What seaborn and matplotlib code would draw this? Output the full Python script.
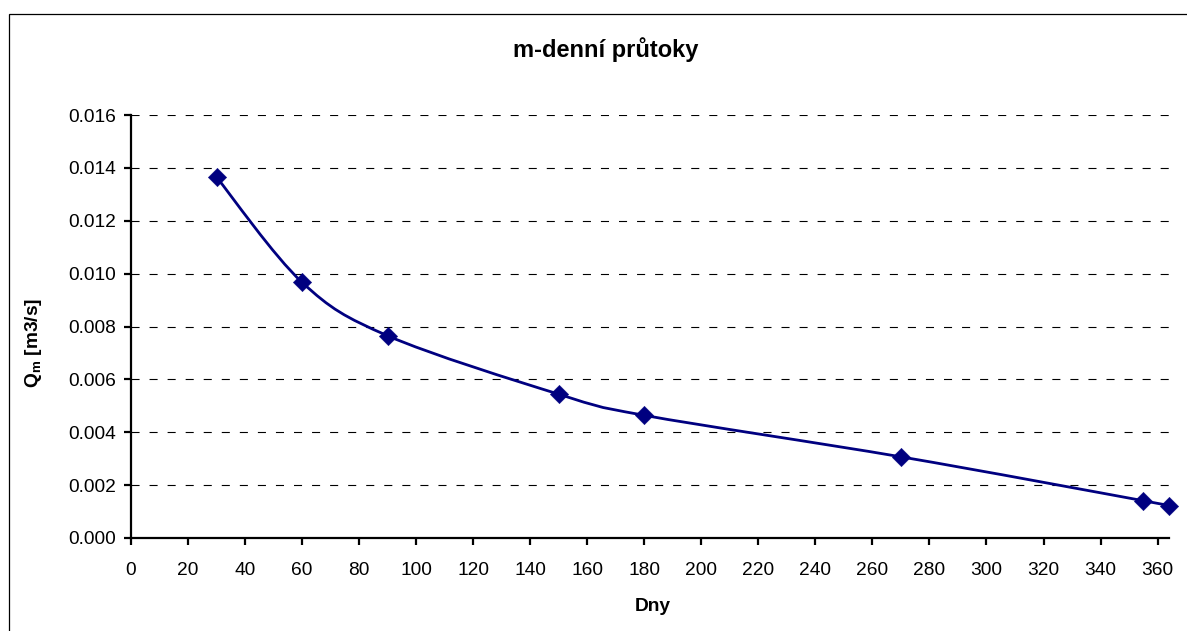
import numpy as np
import pandas as pd
import matplotlib
matplotlib.use("Agg")
import matplotlib.pyplot as plt
from matplotlib.path import Path
from matplotlib.patches import PathPatch, Rectangle
import seaborn as sns

# m-day discharges
days = [30, 60, 90, 150, 180, 270, 355, 364]
discharge = [0.01365, 0.00967, 0.00765, 0.00544, 0.00464, 0.00307, 0.00141, 0.00121]
x_ticks = list(range(0, 361, 20))
y_ticks = [0.000, 0.002, 0.004, 0.006, 0.008, 0.010, 0.012, 0.014, 0.016]

df = pd.DataFrame({"Dny": days, "Qm": discharge})

sns.set_theme(style="white")
plt.rcParams["font.family"] = ["Liberation Sans", "DejaVu Sans"]
plt.rcParams["lines.scale_dashes"] = False

W, H = 1187, 631
fig = plt.figure(figsize=(W / 100, H / 100), dpi=100)
fig.patch.set_facecolor("white")

# chart-area frame (only its top and left edges fall inside the canvas)
fig.add_artist(Rectangle((9 / W, -0.2), 1.5, (H - 14) / H + 0.2,
                         transform=fig.transFigure, fill=False,
                         edgecolor="black", linewidth=0.9))

ax = fig.add_axes([131 / W, 1 - 538 / H, (1169 - 131) / W, (538 - 115) / H])
ax.set_facecolor("white")

navy = "#000080"

# smoothed connecting curve (cubic Bezier segments through the points)
xs = np.array(days, dtype=float)
ys = np.array(discharge, dtype=float)
n = len(xs)
verts = [(xs[0], ys[0])]
codes = [Path.MOVETO]
for i in range(n - 1):
    p0 = np.array([xs[max(i - 1, 0)], ys[max(i - 1, 0)]])
    p1 = np.array([xs[i], ys[i]])
    p2 = np.array([xs[i + 1], ys[i + 1]])
    p3 = np.array([xs[min(i + 2, n - 1)], ys[min(i + 2, n - 1)]])
    c1 = p1 + (p2 - p0) / 6.0
    c2 = p2 - (p3 - p1) / 6.0
    verts += [tuple(c1), tuple(c2), tuple(p2)]
    codes += [Path.CURVE4, Path.CURVE4, Path.CURVE4]
ax.add_patch(PathPatch(Path(verts, codes), facecolor="none", edgecolor=navy,
                       linewidth=2.0, zorder=3, capstyle="round", joinstyle="round",
                       clip_on=False))

sns.scatterplot(data=df, x="Dny", y="Qm", marker="D", s=88, color=navy,
                edgecolor=navy, linewidth=0.3, ax=ax, zorder=4, legend=False)
for coll in ax.collections:
    coll.set_clip_on(False)

ax.set_xlim(0, 364)
ax.set_ylim(0, 0.016)
ax.set_xticks(x_ticks)
ax.set_xticklabels([str(t) for t in x_ticks])
ax.set_yticks(y_ticks)
ax.set_yticklabels([f"{t:.3f}" for t in y_ticks])

ax.yaxis.grid(True, color="black", linewidth=0.8, linestyle=(0, (5.8, 7.2)))
ax.xaxis.grid(False)
ax.set_axisbelow(True)

for side in ["top", "right"]:
    ax.spines[side].set_visible(False)
for side in ["left", "bottom"]:
    ax.spines[side].set_color("black")
    ax.spines[side].set_linewidth(1.6)

ax.tick_params(axis="x", direction="out", length=5, width=1.6, color="black",
               labelsize=13.8, labelcolor="black", pad=12)
ax.tick_params(axis="y", direction="out", length=5, width=1.6, color="black",
               labelsize=13.8, labelcolor="black", pad=6)
ax.tick_params(bottom=True, left=True)

ax.set_xlabel("")
ax.set_ylabel("")

fig.text(606 / W, 1 - 57 / H, "m-denní průtoky", ha="center", va="baseline",
         fontsize=17, fontweight="bold", color="black")
fig.text(653 / W, 1 - 611 / H, "Dny", ha="center", va="baseline",
         fontsize=13.8, fontweight="bold", color="black")
fig.text(34 / W, 1 - 343 / H, r"Q$_\mathregular{m}$ [m3/s]", ha="center", va="center",
         rotation=90, fontsize=13.8, fontweight="bold", color="black")

fig.savefig("out.png", dpi=100, facecolor="white")
